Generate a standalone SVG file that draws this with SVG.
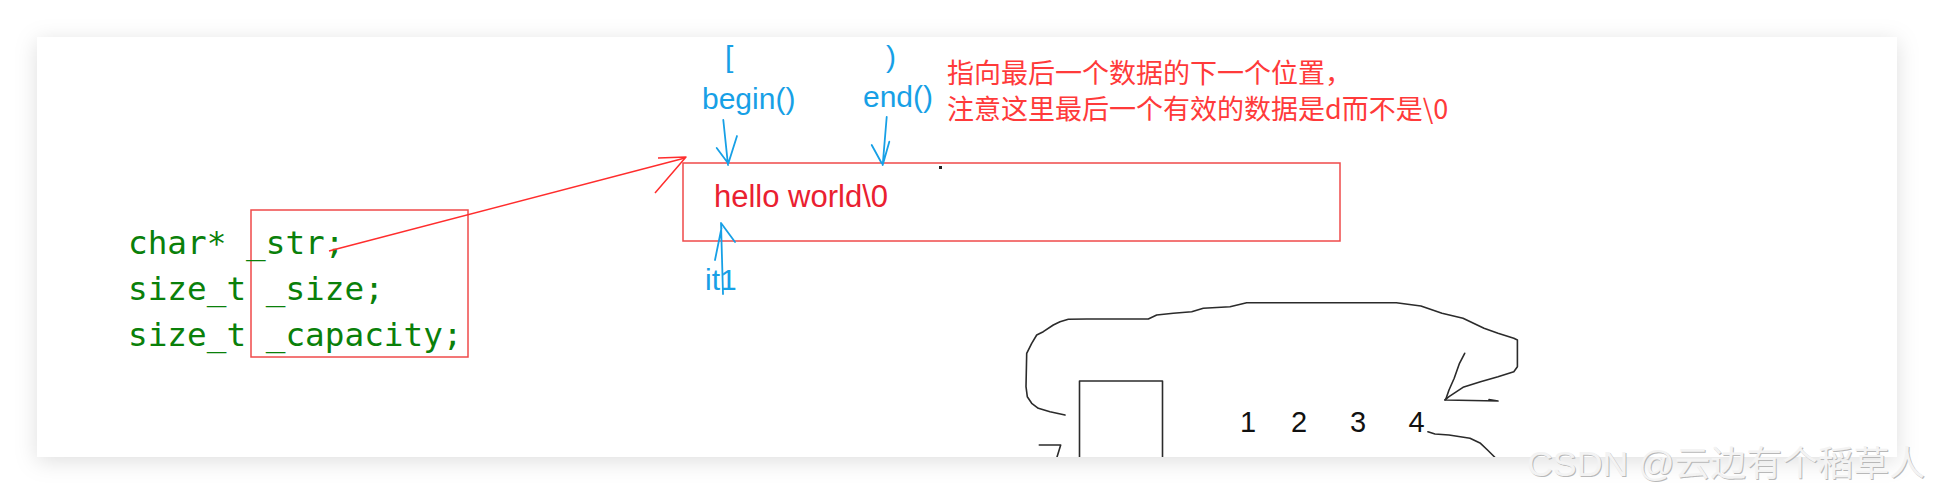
<svg xmlns="http://www.w3.org/2000/svg" width="1934" height="494" viewBox="0 0 1934 494">
  <defs>
    <filter id="shadow" x="-5%" y="-20%" width="110%" height="145%">
      <feDropShadow dx="0" dy="4" stdDeviation="11" flood-color="#000" flood-opacity="0.13"/>
    </filter>
    <clipPath id="panelClip"><rect x="37" y="37" width="1860" height="420"/></clipPath>
    <style>
      .code { font-family: "DejaVu Sans Mono", "Liberation Mono", monospace; font-size: 32.7px; fill: #0a800a; }
      .blue { font-family: "Liberation Sans", "Noto Sans CJK SC", sans-serif; font-size: 30px; fill: #17a0e6; }
      .note { font-family: "Noto Sans CJK SC", "Liberation Sans", sans-serif; font-size: 27px; fill: #ff3a3a; }
      .redbox { fill: none; stroke: #ef4a4a; stroke-width: 1.5; }
      .ink { fill: none; stroke: #17a0e6; stroke-width: 1.8; stroke-linecap: round; stroke-linejoin: round; }
      .pen { fill: none; stroke: #2b2b2b; stroke-width: 1.6; stroke-linejoin: round; stroke-linecap: round; }
      .digit { font-family: "Liberation Sans", sans-serif; font-size: 29px; fill: #111; text-anchor: middle; }
      .wm { font-family: "Liberation Sans", "Noto Sans CJK SC", sans-serif; font-size: 35px; }
    </style>
  </defs>

  <rect width="1934" height="494" fill="#ffffff"/>
  <g id="panel">
    <rect x="37" y="37" width="1860" height="420" fill="#ffffff" filter="url(#shadow)"/>
  </g>

  <g id="code-node">
    <rect class="redbox" x="251" y="210" width="217" height="147"/>
    <text class="code" x="128" y="254">char* _str;</text>
    <text class="code" x="128" y="300">size_t _size;</text>
    <text class="code" x="128" y="346">size_t _capacity;</text>
  </g>

  <g id="string-node">
    <rect class="redbox" x="683" y="163" width="657" height="78"/>
    <text x="714" y="207" font-family="Liberation Sans, sans-serif" font-size="31" fill="#ea2030">hello world\0</text>
    <rect x="939" y="166" width="3" height="3" fill="#222"/>
  </g>

  <g id="iterator-labels">
    <text class="blue" x="725" y="67">[</text>
    <text class="blue" x="886" y="67">)</text>
    <text class="blue" x="702" y="109">begin()</text>
    <text class="blue" x="863" y="107">end()</text>
    <text class="blue" x="705" y="290" font-size="28">it1</text>
  </g>

  <g id="note">
    <text class="note" x="947" y="83">指向最后一个数据的下一个位置，</text>
    <text class="note" x="947" y="119">注意这里最后一个有效的数据是d而不是\0</text>
  </g>

  <g id="connectors">
    <path d="M329,251 L685,158" fill="none" stroke="#ff2d2d" stroke-width="1.5"/>
    <path d="M658,158 L686,157 L655,193" fill="none" stroke="#ff2d2d" stroke-width="1.5" stroke-linejoin="round"/>
    <path class="ink" d="M723.3,120 L728,165 M716.7,148 L727.5,162.5 M737,136 L728.3,163.5"/>
    <path class="ink" d="M886.7,117 L882.7,165 M871.7,145 L881.7,163.3 M889.3,141.7 L882.7,165"/>
    <path class="ink" d="M723,294 L721,223 L735,242 M721.5,228 L715,260"/>
  </g>

  <g id="sketch" clip-path="url(#panelClip)">
    <path class="pen" d="M1065,415 L1050,411.7 L1038.3,408.3 L1031.7,403.3 L1027.3,396.7 L1026,386.7 L1026.7,353.3 L1031.7,343.3 L1036.7,335 L1043.3,331.7 L1053.3,325 L1060,321.7 L1068.3,319.3 L1086.7,319 L1148.3,319 L1156.7,315 L1173.3,313.3 L1191.7,311.7 L1203.3,308.3 L1230,306.7 L1246.7,302.7 L1300,302.7 L1396.3,302.7 L1420.9,306 L1442,313.3 L1463,318.3 L1473.5,323.3 L1484,328.3 L1498,333.3 L1513.8,338.3 L1517.4,340 L1517.4,366.7 L1513.8,371.7 L1498,376.7 L1480.5,381.7 L1463,387.3 L1449,396.7 L1444.8,400"/>
    <path class="pen" d="M1464.7,353.3 L1459.5,363.3 L1454.2,378.3 L1449,390 L1445.5,400 L1498,401 M1489,399.5 L1498,401"/>
    <path class="pen" d="M1427.9,431.7 L1435,434 L1449,435 L1470,438.3 L1480.5,443.3 L1487.5,450 L1494.6,457"/>
    <path class="pen" d="M1079.5,460 L1079.5,381 L1162.5,381 L1162.5,460"/>
    <path class="pen" d="M1039.3,445 L1060.7,445 L1056.7,458"/>
    <text class="digit" x="1248" y="432">1</text>
    <text class="digit" x="1299" y="432">2</text>
    <text class="digit" x="1358" y="432">3</text>
    <text class="digit" x="1416.5" y="432">4</text>
  </g>

  <g id="watermark">
    <text class="wm" x="1528" y="477" fill="#b8b8b8" textLength="398" lengthAdjust="spacingAndGlyphs">CSDN @云边有个稻草人</text>
    <text class="wm" x="1527" y="476" fill="#f3f3f3" textLength="398" lengthAdjust="spacingAndGlyphs">CSDN @云边有个稻草人</text>
  </g>
</svg>
